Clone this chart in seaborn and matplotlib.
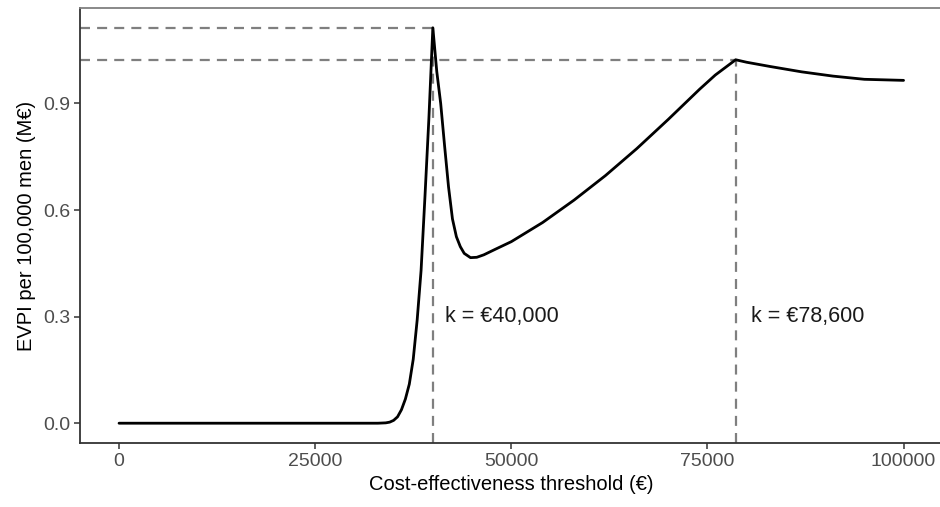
import numpy as np
import pandas as pd
import matplotlib
matplotlib.use("Agg")
import matplotlib.pyplot as plt
import seaborn as sns

# EVPI curve
threshold = [0, 5000, 10000, 15000, 20000, 25000, 30000, 33000, 34000, 34500,
             35000, 35500, 36000, 36500, 37000, 37500, 38000, 38500, 39000, 39500,
             40000, 40500, 41000, 41500, 42000, 42500, 43000, 43500, 44000, 44800,
             45600, 46500, 48000, 50000, 54000, 58000, 62000, 66000, 70000, 74000,
             76000, 78600, 80000, 83000, 87000, 91000, 95000, 100000]
evpi = [0, 0, 0, 0, 0, 0, 0, 0, 0.001, 0.003,
        0.008, 0.018, 0.038, 0.068, 0.11, 0.18, 0.29, 0.43, 0.64, 0.86,
        1.113, 0.99, 0.9, 0.78, 0.665, 0.575, 0.525, 0.497, 0.478, 0.466,
        0.467, 0.474, 0.49, 0.511, 0.565, 0.628, 0.697, 0.773, 0.855, 0.94,
        0.98, 1.023, 1.016, 1.004, 0.989, 0.977, 0.968, 0.965]

k_values = [40000, 78600]
k_peaks = [1.113, 1.023]
k_labels = ["k = \u20ac40,000", "k = \u20ac78,600"]
label_x = [41500, 80500]
label_y = 0.3

xticks = [0, 25000, 50000, 75000, 100000]
yticks = [0.0, 0.3, 0.6, 0.9]

sns.set_theme(style="white")
plt.rcParams['font.family'] = ['Liberation Sans', 'DejaVu Sans']

df = pd.DataFrame({"threshold": threshold, "evpi": evpi})

fig = plt.figure(figsize=(9.4, 5.07), dpi=100)
ax = fig.add_axes([79.8 / 940, 64 / 507, 863 / 940, 435 / 507])

xmin, xmax = -5000, 105000
ymin, ymax = -0.0557, 1.1687

# dashed guides
for k, p in zip(k_values, k_peaks):
    ax.plot([k, k], [ymin, p], color="#7f7f7f", lw=1.6, ls=(0, (4.5, 3.2)), zorder=1)
    ax.plot([xmin, k], [p, p], color="#7f7f7f", lw=1.6, ls=(0, (4.5, 3.2)), zorder=1)

sns.lineplot(data=df, x="threshold", y="evpi", color="black", lw=2.0, ax=ax, zorder=3)

for lx, lab in zip(label_x, k_labels):
    ax.text(lx, label_y, lab, ha="left", va="center", fontsize=15.5, color="#1a1a1a")

ax.set_xlim(xmin, xmax)
ax.set_ylim(ymin, ymax)
ax.set_xticks(xticks)
ax.set_xticklabels([str(t) for t in xticks])
ax.set_yticks(yticks)
ax.set_yticklabels([f"{t:.1f}" for t in yticks])
ax.tick_params(axis="both", which="major", length=4, width=1.1, color="#333333",
               labelcolor="#4d4d4d", labelsize=14, pad=3, direction="out",
               bottom=True, left=True)

ax.set_xlabel("Cost-effectiveness threshold (\u20ac)", fontsize=14.5, color="black", labelpad=4)
ax.set_ylabel("EVPI per 100,000 men (M\u20ac)", fontsize=14.5, color="black", labelpad=5)

for side in ["left", "bottom"]:
    ax.spines[side].set_color("#333333")
    ax.spines[side].set_linewidth(1.3)
for side in ["top", "right"]:
    ax.spines[side].set_color("#808080")
    ax.spines[side].set_linewidth(1.3)

fig.savefig("out.png", dpi=100)
